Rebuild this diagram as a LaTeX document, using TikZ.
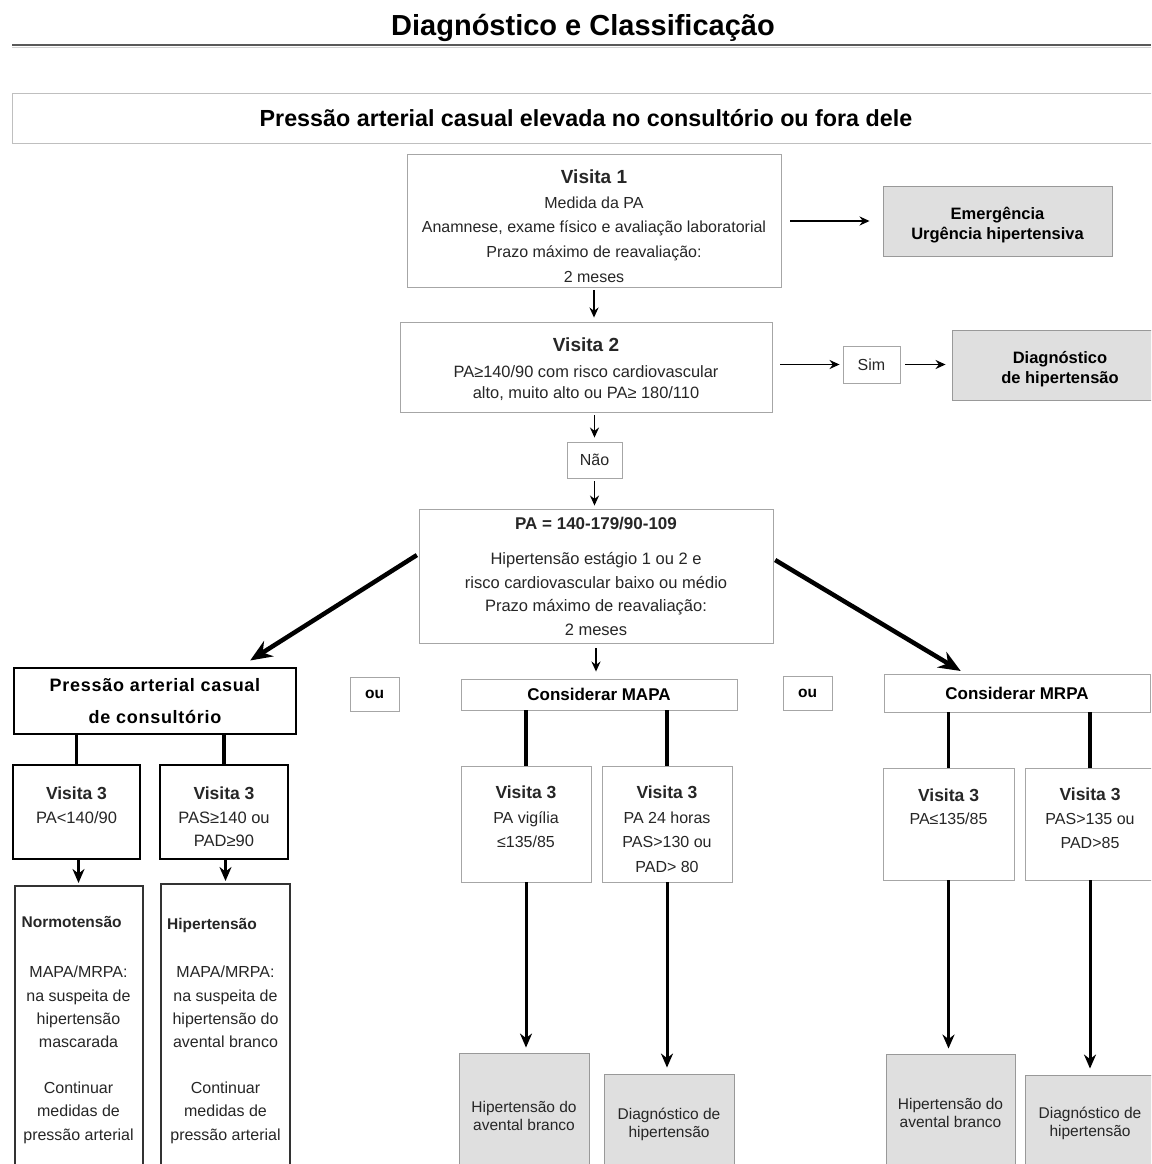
\documentclass[tikz,border=0pt]{standalone}
\usepackage{fontspec}
\setmainfont{Liberation Sans}
\usetikzlibrary{arrows.meta}

\begin{document}
\begin{tikzpicture}[
    x=1pt, y=-1pt,
    >=Stealth,
    thinbox/.style={draw=gray!70, line width=0.9pt, fill=white, inner sep=0pt},
    thickbox/.style={draw=black, line width=2.2pt, fill=white, inner sep=0pt},
    resultbox/.style={draw=gray!80, line width=0.9pt, fill=gray!25, inner sep=0pt},
    txt/.style={font=\fontsize{16}{24}\selectfont, text=black!85, align=center, inner sep=0pt},
    hd/.style={font=\bfseries\fontsize{17}{22}\selectfont, align=center, inner sep=0pt},
    arr/.style={-{Stealth[length=10pt,width=9pt]}, line width=1.8pt},
    midarr/.style={-{Stealth[length=14pt,width=12pt]}, line width=3pt},
    bigarr/.style={-{Stealth[length=22pt,width=18pt]}, line width=4.5pt},
    link/.style={line width=3.5pt}
]

\fill[white] (0,0) rectangle (1151,1164);
\useasboundingbox (0,0) rectangle (1151,1164);
\clip (0,0) rectangle (1151,1164);

% TITLE
\node[font=\bfseries\fontsize{29}{32}\selectfont] (title) at (583,27.5) {Diagnóstico e Classificação};
\draw[black!65, line width=2pt] (12,45) -- (1151,45);
\draw[gray!35, line width=1pt] (12,47.5) -- (1151,47.5);

\node[thinbox, draw=gray!50, minimum width=1148pt, minimum height=50pt,
      font=\bfseries\fontsize{23.3}{26}\selectfont] (banner) at (586,118)
      {Pressão arterial casual elevada no consultório ou fora dele};

% VISITA 1 / VISITA 2
\node[thinbox, minimum width=374pt, minimum height=133pt] (visita1) at (594,220.5) {};
\node[txt, font=\fontsize{16}{24.8}\selectfont] (visita1text) at ([yshift=-5.5pt]visita1.center)
      {{\bfseries\fontsize{19}{25}\selectfont Visita 1}\\ Medida da PA\\
       Anamnese, exame físico e avaliação laboratorial\\
       Prazo máximo de reavaliação:\\ 2 meses};
\node[resultbox, minimum width=229pt, minimum height=70pt] (emerg) at (997.5,221) {};
\node[hd, font=\bfseries\fontsize{16.5}{20}\selectfont] (emergtext) at ([yshift=-4pt]emerg.center)
      {Emergência\\Urgência hipertensiva};

\node[thinbox, minimum width=372pt, minimum height=90pt] (visita2) at (586,367) {};
\node[txt, font=\fontsize{16.4}{21}\selectfont] (visita2text) at ([yshift=-2.5pt]visita2.center)
      {{\bfseries\fontsize{19}{25}\selectfont Visita 2}\\[5pt]
       PA≥140/90 com risco cardiovascular\\ alto, muito alto ou PA≥ 180/110};
\node[thinbox, txt, minimum width=57pt, minimum height=37pt] (sim) at (871.5,364.5) {Sim};
\node[resultbox, minimum width=216pt, minimum height=70pt] (diag) at (1060,365) {};
\node[hd, font=\bfseries\fontsize{16.5}{20}\selectfont] (diagtext) at ([yshift=-4.5pt]diag.center)
      {Diagnóstico\\de hipertensão};

\node[thinbox, txt, minimum width=55pt, minimum height=36pt] (nao) at (594.5,460) {Não};

\node[thinbox, txt, font=\fontsize{16.5}{23.5}\selectfont,
      minimum width=354pt, minimum height=134pt] (pa) at (596,576)
      {{\bfseries\fontsize{17}{22}\selectfont PA = 140-179/90-109}\\[12pt]
       Hipertensão estágio 1 ou 2 e\\ risco cardiovascular baixo ou médio\\
       Prazo máximo de reavaliação:\\ 2 meses};

% ROW OF OPTIONS
\node[thickbox, hd, font=\bfseries\fontsize{18}{32}\selectfont\addfontfeature{LetterSpace=4},
      minimum width=282pt, minimum height=66pt] (casual) at (155,701)
      {Pressão arterial casual\\de consultório};
\node[thinbox, hd, font=\bfseries\fontsize{15.5}{20}\selectfont,
      minimum width=49pt, minimum height=34pt] (ou1) at (374.5,694) {ou};
\node[thinbox, hd, minimum width=276pt, minimum height=31pt] (mapa) at (599,694.5) {Considerar MAPA};
\node[thinbox, hd, font=\bfseries\fontsize{15.5}{20}\selectfont,
      minimum width=49pt, minimum height=34pt] (ou2) at (807.5,693) {ou};
\node[thinbox, hd, minimum width=266pt, minimum height=38pt] (mrpa) at (1017,693) {Considerar MRPA};

% VISITA 3 BOXES
\node[thickbox, minimum width=127pt, minimum height=94pt] (v3a) at (76.5,812) {};
\node[thickbox, minimum width=128pt, minimum height=94pt] (v3b) at (224,812) {};
\node[thinbox, minimum width=130pt, minimum height=116pt] (v3c) at (526,824) {};
\node[thinbox, minimum width=130pt, minimum height=116pt] (v3d) at (667,824) {};
\node[thinbox, minimum width=131pt, minimum height=112pt] (v3e) at (948.5,824) {};
\node[thinbox, minimum width=130pt, minimum height=112pt] (v3f) at (1090,824) {};

\node[txt, font=\fontsize{16.5}{24}\selectfont, anchor=north] (v3atext) at ([yshift=-23pt]v3a.north)
      {{\bfseries\fontsize{17.5}{24}\selectfont Visita 3}\\ PA<140/90};
\node[txt, font=\fontsize{16.5}{23.5}\selectfont, anchor=north] (v3btext) at ([yshift=-23pt]v3b.north)
      {{\bfseries\fontsize{17.5}{24}\selectfont Visita 3}\\ PAS≥140 ou\\ PAD≥90};
\node[txt, font=\fontsize{16}{24.5}\selectfont, anchor=north] (v3ctext) at ([yshift=-20.5pt]v3c.north)
      {{\bfseries\fontsize{17.5}{24}\selectfont Visita 3}\\ PA vigília\\ ≤135/85};
\node[txt, font=\fontsize{16}{24.5}\selectfont, anchor=north] (v3dtext) at ([yshift=-20.5pt]v3d.north)
      {{\bfseries\fontsize{17.5}{24}\selectfont Visita 3}\\ PA 24 horas\\ PAS>130 ou\\ PAD> 80};
\node[txt, font=\fontsize{16}{23}\selectfont, anchor=north] (v3etext) at ([yshift=-21.5pt]v3e.north)
      {{\bfseries\fontsize{17.5}{24}\selectfont Visita 3}\\ PA≤135/85};
\node[txt, font=\fontsize{16}{24}\selectfont, anchor=north] (v3ftext) at ([yshift=-20.5pt]v3f.north)
      {{\bfseries\fontsize{17.5}{24}\selectfont Visita 3}\\ PAS>135 ou\\ PAD>85};

% OUTCOMES
\node[thickbox, draw=black!80, line width=2pt, minimum width=128pt, minimum height=304pt] (normo) at (78.5,1038) {};
\node[thickbox, draw=black!80, line width=2pt, minimum width=129pt, minimum height=306pt] (hiper) at (225.5,1037) {};
\node[resultbox, minimum width=130pt, minimum height=137pt] (hab1) at (524,1121.5) {};
\node[resultbox, minimum width=130pt, minimum height=116pt] (dh1) at (669,1132) {};
\node[resultbox, minimum width=129pt, minimum height=136pt] (hab2) at (950.5,1122) {};
\node[resultbox, minimum width=130pt, minimum height=115pt] (dh2) at (1090,1132.5) {};

\node[txt, font=\bfseries\fontsize{15.5}{24}\selectfont, anchor=north west] (normohead)
      at ([xshift=8pt,yshift=-31pt]normo.north west) {Normotensão};
\node[txt, font=\fontsize{16}{23.2}\selectfont, anchor=north] (normotext) at ([yshift=-81pt]normo.north)
      {MAPA/MRPA:\\ na suspeita de\\ hipertensão\\ mascarada\\[23pt] Continuar\\ medidas de\\ pressão arterial};
\node[txt, font=\bfseries\fontsize{15.5}{24}\selectfont, anchor=north west] (hiperhead)
      at ([xshift=7pt,yshift=-35pt]hiper.north west) {Hipertensão};
\node[txt, font=\fontsize{16}{23.2}\selectfont, anchor=north] (hipertext) at ([yshift=-83pt]hiper.north)
      {MAPA/MRPA:\\ na suspeita de\\ hipertensão do\\ avental branco\\[23pt] Continuar\\ medidas de\\ pressão arterial};

\node[txt, font=\fontsize{15.5}{18}\selectfont, anchor=north] (hab1text) at ([yshift=-49pt]hab1.north)
      {Hipertensão do\\ avental branco};
\node[txt, font=\fontsize{15.5}{18}\selectfont, anchor=north] (dh1text) at ([yshift=-34.5pt]dh1.north)
      {Diagnóstico de\\ hipertensão};
\node[txt, font=\fontsize{15.5}{18}\selectfont, anchor=north] (hab2text) at ([yshift=-45pt]hab2.north)
      {Hipertensão do\\ avental branco};
\node[txt, font=\fontsize{15.5}{18}\selectfont, anchor=north] (dh2text) at ([yshift=-32.5pt]dh2.north)
      {Diagnóstico de\\ hipertensão};

% --- ARROWS ---
\draw[arr, shorten <=9pt, shorten >=13pt] (visita1.east |- emerg) -- (emerg.west);
\draw[arr, shorten <=3pt, shorten >=4pt] (visita1.south) -- (visita1.south |- visita2.north);
\draw[arr, shorten <=8pt, shorten >=3pt] (visita2.east |- sim) -- (sim.west);
\draw[arr, shorten <=5pt, shorten >=6pt] (sim.east) -- (sim.east -| diag.west);
\draw[arr, shorten <=3pt, shorten >=4pt] (nao.north |- visita2.south) -- (nao.north);
\draw[arr, shorten <=3pt, shorten >=3pt] (nao.south) -- (nao.south |- pa.north);

\draw[bigarr, shorten <=2pt, shorten >=12pt] ([yshift=22pt]pa.west) -- ([xshift=85pt]casual.north);
\draw[bigarr, shorten <=2pt, shorten >=5pt] ([yshift=17pt]pa.east) -- ([xshift=-52pt]mrpa.north);
\draw[arr, shorten <=5pt, shorten >=7pt] (pa.south) -- (pa.south |- mapa.north);

% links to Visita 3
\draw[link] (v3a.north |- casual.south) -- (v3a.north);
\draw[link] (v3b.north |- casual.south) -- (v3b.north);
\draw[link] (v3c.north |- mapa.south) -- (v3c.north);
\draw[link] (v3d.north |- mapa.south) -- (v3d.north);
\draw[link] (v3e.north |- mrpa.south) -- (v3e.north);
\draw[link] (v3f.north |- mrpa.south) -- (v3f.north);

% Visita 3 to outcomes
\draw[midarr, line width=2.5pt, shorten >=2pt] (normo.north |- v3a.south) -- (normo.north);
\draw[midarr, line width=2.5pt, shorten >=2pt] (hiper.north |- v3b.south) -- (hiper.north);
\draw[midarr, shorten >=5pt] (v3c.south) -- (v3c.south |- hab1.north);
\draw[midarr, shorten >=6pt] (v3d.south) -- (v3d.south |- dh1.north);
\draw[midarr, shorten >=5pt] (v3e.south) -- (v3e.south |- hab2.north);
\draw[midarr, shorten >=6pt] (v3f.south) -- (v3f.south |- dh2.north);

\end{tikzpicture}
\end{document}
